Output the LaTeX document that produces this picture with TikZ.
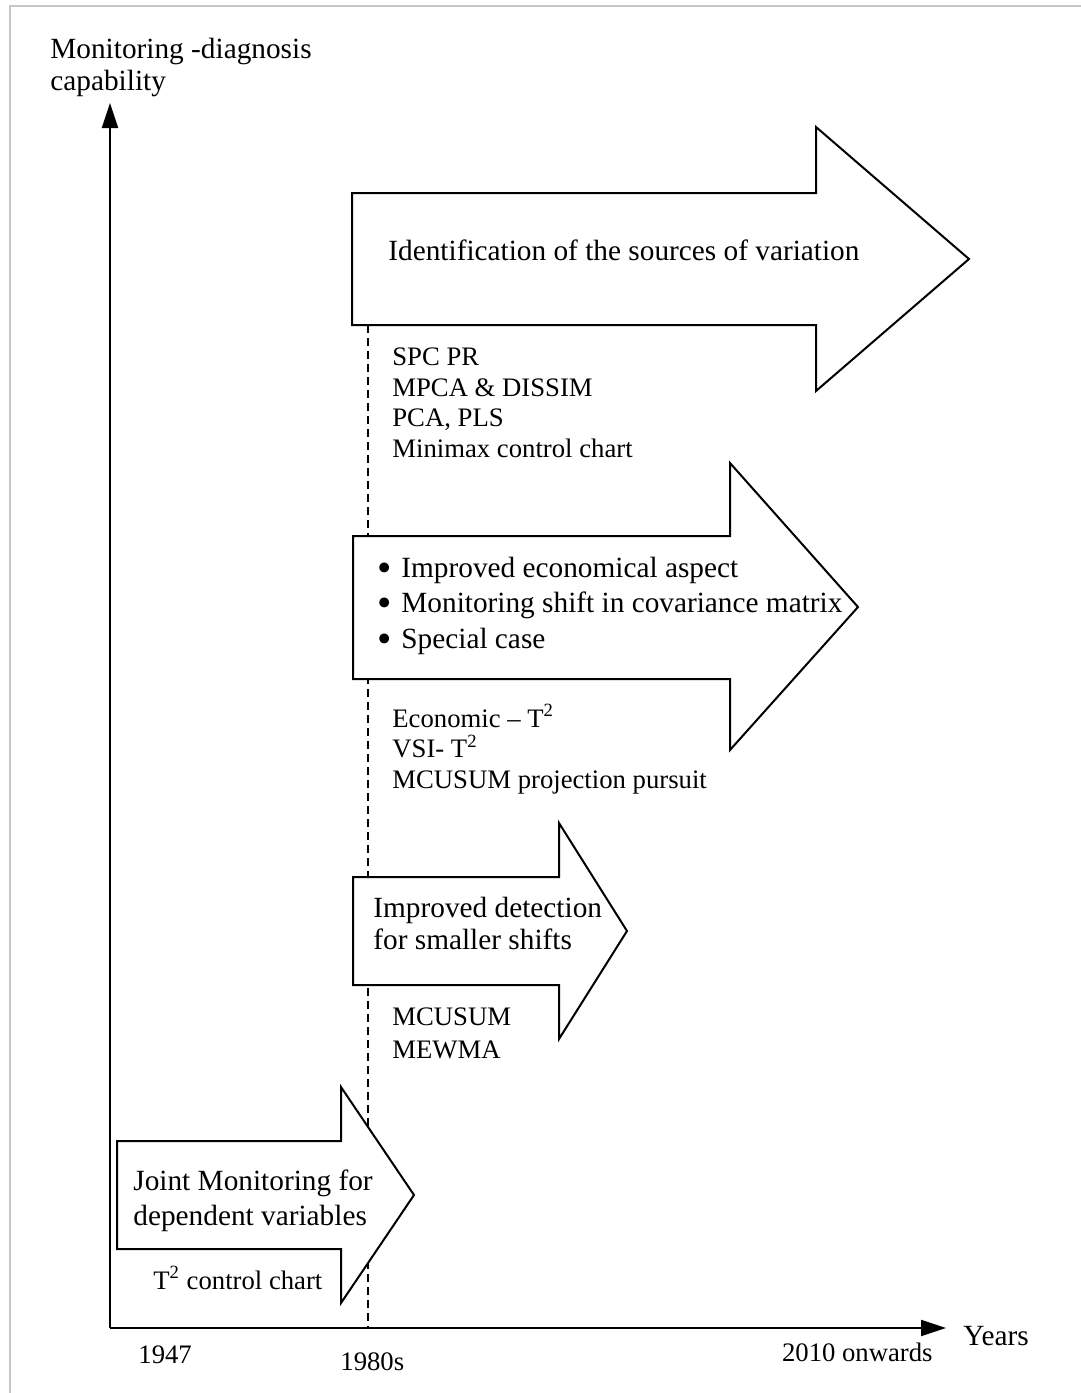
\documentclass[tikz,border=0pt]{standalone}
\usepackage{fontspec}
\usepackage{graphicx}
\setmainfont{Liberation Serif}
\usetikzlibrary{arrows.meta}
\newcommand{\bigbullet}{\makebox[12pt][l]{\smash{\raisebox{-2.2pt}{\scalebox{1.4}{\textbullet}}}}}
\begin{document}
\begin{tikzpicture}[x=0.5pt,y=-0.5pt,
  bigtext/.style={font=\fontsize{14.65}{17.5}\selectfont, inner sep=0pt, anchor=base west, align=left},
  smalltext/.style={font=\fontsize{13.35}{15.25}\selectfont, inner sep=0pt, anchor=base west, align=left},
  fatarrow/.style={draw=black, fill=white, line width=1pt, line join=miter},
  axisline/.style={line width=1pt, -{Triangle[length=12.5pt,width=8pt]}},
  frameline/.style={draw=black!22, line width=1pt},
  dashline/.style={line width=0.9pt, dash pattern=on 4pt off 2.5pt}]

% page extent and light frame
\useasboundingbox (0,0) rectangle (1081,1393);
\draw[frameline] (10,1393) -- (10,6) -- (1081,6);

% 1980s marker line (drawn first so the arrows cover it)
\coordinate (dtop) at (368,325);
\coordinate (dbot) at (368,1328);
\draw[dashline] (dtop) -- (dbot);

% block arrows, bottom to top
\draw[fatarrow] (117,1141) -- (341,1141) -- (341,1087) -- (414,1195)
  -- (341,1303) -- (341,1249) -- (117,1249) -- cycle;
\draw[fatarrow] (353,877) -- (559,877) -- (559,823) -- (627,931)
  -- (559,1039) -- (559,985) -- (353,985) -- cycle;
\draw[fatarrow] (353,536) -- (730,536) -- (730,463) -- (858,607)
  -- (730,750) -- (730,679) -- (353,679) -- cycle;
\draw[fatarrow] (352,193) -- (816,193) -- (816,127) -- (969,259)
  -- (816,391) -- (816,325) -- (352,325) -- cycle;

% axes
\coordinate (origin) at (110,1328);
\coordinate (ytip) at (110,103);
\coordinate (xtip) at (946,1328);
\draw[axisline] (origin) -- (ytip);
\draw[axisline] (origin) -- (xtip);

% axis labels (multi-line nodes are placed by the baseline of their last line)
\node[bigtext, font=\fontsize{14.65}{16}\selectfont] (ylab) at (50,90) {Monitoring -diagnosis\\capability};
\node[bigtext] (xlab) at (963,1345) {Years};
\node[smalltext] (y1947) at (138,1363) {1947};
\node[smalltext] (y1980) at (340,1370) {1980s};
\node[smalltext, anchor=base east] (y2010) at (933,1361) {2010 onwards};

% arrow captions
\node[bigtext] (a1) at (133,1225) {Joint Monitoring for\\dependent variables};
\node[smalltext] (m1) at (153,1289) {T\textsuperscript{2} control chart};

\node[bigtext, font=\fontsize{14.65}{16}\selectfont] (a2) at (373,949) {Improved detection\\for smaller shifts};
\node[smalltext, font=\fontsize{13.35}{16.5}\selectfont] (m2) at (392,1058) {MCUSUM\\MEWMA};

\node[bigtext, font=\fontsize{14.65}{17.75}\selectfont] (a3) at (377,648)
  {\bigbullet Improved economical aspect\\
   \bigbullet Monitoring shift in covariance matrix\\
   \bigbullet Special case};
\node[smalltext] (m3) at (392,788) {Economic -- T\textsuperscript{2}\\VSI- T\textsuperscript{2}\\MCUSUM projection pursuit};

\node[bigtext] (a4) at (388,260) {Identification of the sources of variation};
\node[smalltext] (m4) at (392,457) {SPC PR\\MPCA \& DISSIM\\PCA, PLS\\Minimax control chart};
\end{tikzpicture}
\end{document}
